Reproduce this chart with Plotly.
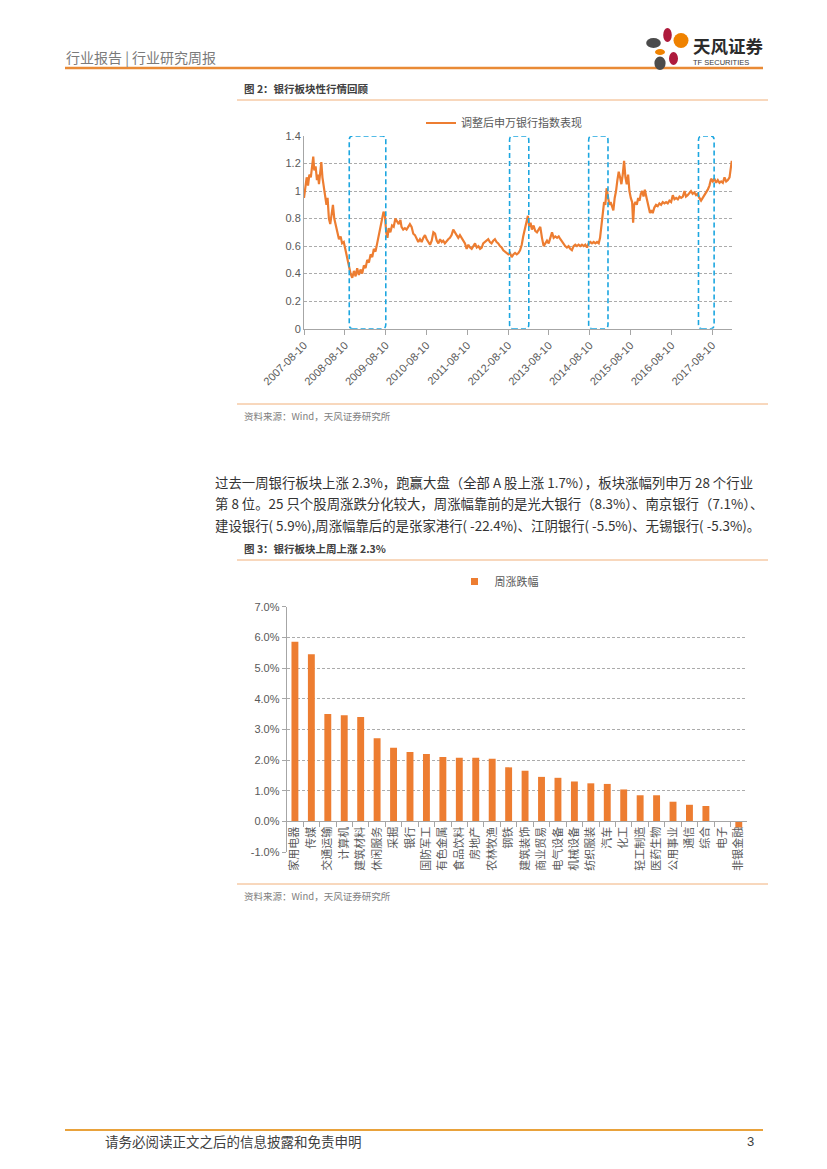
import plotly.graph_objects as go
import pandas as pd

W, H = 827, 1169
ORANGE = "#ED7D31"
BLUE = "#1CA6E0"
GRID = "#ABABAB"
AXIS = "#A6A6A6"
TXT = "#595959"
CJK = "Noto Sans CJK SC"
NUM = "Liberation Sans, Noto Sans CJK SC"

# ---------------- Chart 1 data: 调整后申万银行指数表现 ----------------
dates = [
    "2007-08-10", "2007-08-22", "2007-09-03", "2007-09-15", "2007-09-27", "2007-10-10", "2007-10-20",
    "2007-11-01", "2007-11-10", "2007-11-22", "2007-12-04", "2007-12-13", "2007-12-22", "2007-12-31",
    "2008-01-12", "2008-01-22", "2008-02-03", "2008-02-15", "2008-02-27", "2008-03-08", "2008-03-20",
    "2008-04-01", "2008-04-13", "2008-04-25", "2008-05-07", "2008-05-19", "2008-06-03", "2008-06-18",
    "2008-07-03", "2008-07-16", "2008-07-31", "2008-08-15", "2008-08-30", "2008-09-15", "2008-09-30",
    "2008-10-15", "2008-10-30", "2008-11-14", "2008-11-28", "2008-12-13", "2008-12-28", "2009-01-12",
    "2009-01-27", "2009-02-11", "2009-02-26", "2009-03-13", "2009-03-28", "2009-04-12", "2009-04-26",
    "2009-05-11", "2009-05-26", "2009-06-10", "2009-06-25", "2009-07-10", "2009-07-22", "2009-08-03",
    "2009-08-15", "2009-08-26", "2009-09-06", "2009-09-21", "2009-10-06", "2009-10-21", "2009-11-05",
    "2009-11-20", "2009-12-05", "2009-12-20", "2009-12-30", "2010-01-14", "2010-01-29", "2010-02-13",
    "2010-02-28", "2010-03-15", "2010-03-30", "2010-04-14", "2010-04-29", "2010-05-14", "2010-05-29",
    "2010-06-13", "2010-06-28", "2010-07-13", "2010-07-28", "2010-08-12", "2010-08-27", "2010-09-11",
    "2010-09-26", "2010-10-11", "2010-10-26", "2010-11-10", "2010-11-25", "2010-12-10", "2010-12-25",
    "2011-01-07", "2011-01-22", "2011-02-06", "2011-02-21", "2011-03-08", "2011-03-23", "2011-04-07",
    "2011-04-22", "2011-05-07", "2011-05-22", "2011-06-06", "2011-06-21", "2011-07-06", "2011-07-21",
    "2011-08-05", "2011-08-20", "2011-09-04", "2011-09-19", "2011-10-04", "2011-10-19", "2011-11-03",
    "2011-11-18", "2011-12-03", "2011-12-18", "2011-12-31", "2012-01-15", "2012-01-30", "2012-02-14",
    "2012-02-29", "2012-03-15", "2012-03-30", "2012-04-14", "2012-04-29", "2012-05-14", "2012-05-29",
    "2012-06-13", "2012-06-28", "2012-07-13", "2012-07-28", "2012-08-12", "2012-08-27", "2012-09-11",
    "2012-09-26", "2012-10-11", "2012-10-26", "2012-11-10", "2012-11-25", "2012-12-10", "2012-12-23",
    "2013-01-07", "2013-01-22", "2013-02-03", "2013-02-15", "2013-02-27", "2013-03-11", "2013-03-26",
    "2013-04-10", "2013-04-25", "2013-05-10", "2013-05-25", "2013-06-09", "2013-06-24", "2013-07-09",
    "2013-07-24", "2013-08-08", "2013-08-23", "2013-09-07", "2013-09-22", "2013-10-07", "2013-10-22",
    "2013-11-06", "2013-11-21", "2013-12-06", "2013-12-19", "2014-01-03", "2014-01-18", "2014-02-02",
    "2014-02-17", "2014-03-04", "2014-03-19", "2014-04-03", "2014-04-18", "2014-05-03", "2014-05-18",
    "2014-06-02", "2014-06-17", "2014-07-02", "2014-07-17", "2014-08-01", "2014-08-16", "2014-08-31",
    "2014-09-15", "2014-09-30", "2014-10-15", "2014-10-30", "2014-11-11", "2014-11-23", "2014-12-05",
    "2014-12-17", "2014-12-28", "2015-01-09", "2015-01-21", "2015-02-02", "2015-02-14", "2015-02-26",
    "2015-03-10", "2015-03-22", "2015-04-03", "2015-04-15", "2015-04-27", "2015-05-09", "2015-05-21",
    "2015-06-02", "2015-06-14", "2015-06-26", "2015-07-08", "2015-07-20", "2015-08-01", "2015-08-13",
    "2015-08-25", "2015-09-03", "2015-09-12", "2015-09-24", "2015-10-06", "2015-10-18", "2015-10-30",
    "2015-11-11", "2015-11-23", "2015-12-05", "2015-12-17", "2015-12-27", "2016-01-08", "2016-01-20",
    "2016-02-01", "2016-02-13", "2016-02-25", "2016-03-11", "2016-03-26", "2016-04-10", "2016-04-25",
    "2016-05-10", "2016-05-25", "2016-06-09", "2016-06-24", "2016-07-09", "2016-07-24", "2016-08-08",
    "2016-08-23", "2016-09-07", "2016-09-22", "2016-10-07", "2016-10-22", "2016-11-06", "2016-11-21",
    "2016-12-06", "2016-12-19", "2017-01-03", "2017-01-18", "2017-02-02", "2017-02-17", "2017-03-04",
    "2017-03-19", "2017-04-03", "2017-04-18", "2017-05-03", "2017-05-18", "2017-06-02", "2017-06-17",
    "2017-07-02", "2017-07-17", "2017-08-01", "2017-08-16", "2017-08-31", "2017-09-15", "2017-09-30",
    "2017-10-15", "2017-10-30", "2017-11-14", "2017-11-29", "2017-12-14", "2017-12-29", "2018-01-13",
    "2018-01-25", "2018-02-02",
]
index_values = [
    0.95, 1.05, 1.10, 1.04, 1.12, 1.10, 1.19,
    1.25, 1.15, 1.18, 1.08, 1.12, 1.05, 1.14,
    1.21, 1.10, 1.02, 0.98, 0.90, 0.95, 0.80,
    0.76, 0.85, 0.90, 0.80, 0.75, 0.70, 0.65,
    0.67, 0.62, 0.63, 0.57, 0.52, 0.44, 0.40,
    0.37, 0.42, 0.38, 0.44, 0.39, 0.43, 0.40,
    0.46, 0.44, 0.50, 0.48, 0.54, 0.52, 0.58,
    0.56, 0.62, 0.68, 0.74, 0.80, 0.85, 0.82,
    0.70, 0.66, 0.73, 0.70, 0.75, 0.74, 0.80,
    0.78, 0.76, 0.79, 0.74, 0.72, 0.73, 0.72,
    0.74, 0.76, 0.74, 0.69, 0.68, 0.66, 0.63,
    0.65, 0.63, 0.66, 0.68, 0.65, 0.63, 0.61,
    0.64, 0.70, 0.69, 0.64, 0.62, 0.65, 0.63,
    0.64, 0.62, 0.64, 0.65, 0.66, 0.68, 0.72,
    0.70, 0.68, 0.66, 0.68, 0.66, 0.64, 0.62,
    0.58, 0.61, 0.59, 0.58, 0.60, 0.62, 0.59,
    0.60, 0.58, 0.59, 0.62, 0.63, 0.64, 0.65,
    0.63, 0.62, 0.64, 0.65, 0.63, 0.62, 0.60,
    0.59, 0.57, 0.56, 0.55, 0.54, 0.55, 0.52,
    0.54, 0.55, 0.54, 0.55, 0.57, 0.61, 0.67,
    0.72, 0.76, 0.82, 0.74, 0.77, 0.72, 0.75,
    0.71, 0.70, 0.72, 0.74, 0.66, 0.60, 0.62,
    0.64, 0.62, 0.66, 0.70, 0.66, 0.67, 0.66,
    0.67, 0.65, 0.63, 0.62, 0.60, 0.59, 0.60,
    0.58, 0.57, 0.60, 0.61, 0.60, 0.61, 0.60,
    0.61, 0.60, 0.61, 0.59, 0.62, 0.63, 0.62,
    0.63, 0.62, 0.63, 0.62, 0.66, 0.75, 0.85,
    0.92, 0.90, 1.02, 0.96, 0.90, 0.92, 0.88,
    0.86, 0.95, 1.00, 1.08, 1.14, 1.10, 1.05,
    1.12, 1.22, 1.10, 1.05, 1.12, 1.00, 0.95,
    0.92, 0.77, 0.90, 0.92, 0.90, 0.95, 0.93,
    0.98, 1.00, 0.96, 1.01, 0.97, 0.92, 0.88,
    0.84, 0.86, 0.84, 0.88, 0.90, 0.89, 0.91,
    0.90, 0.92, 0.91, 0.92, 0.91, 0.93, 0.92,
    0.97, 0.94, 0.95, 0.94, 0.96, 0.95, 0.96,
    1.00, 0.96, 0.97, 0.99, 1.00, 0.98, 0.99,
    0.97, 0.98, 0.95, 0.93, 0.95, 0.97, 0.98,
    1.01, 1.04, 1.09, 1.07, 1.09, 1.06, 1.08,
    1.06, 1.07, 1.06, 1.10, 1.07, 1.08, 1.10,
    1.16, 1.22,
]
x1_ticks = ["2007-08-10", "2008-08-10", "2009-08-10", "2010-08-10", "2011-08-10", "2012-08-10",
            "2013-08-10", "2014-08-10", "2015-08-10", "2016-08-10", "2017-08-10"]
x1_range = ["2007-08-10", "2018-02-04"]
y1_ticks = [0, 0.2, 0.4, 0.6, 0.8, 1.0, 1.2, 1.4]
y1_labels = ["0", "0.2", "0.4", "0.6", "0.8", "1", "1.2", "1.4"]
highlight_starts = ["2008-09-18", "2012-08-23", "2014-08-01", "2017-04-10"]
highlight_ends = ["2009-08-11", "2013-02-11", "2015-01-21", "2017-08-28"]

# ---------------- Chart 2 data: 周涨跌幅 (%) ----------------
industries = ["家用电器", "传媒", "交通运输", "计算机", "建筑材料", "休闲服务", "采掘", "银行",
              "国防军工", "有色金属", "食品饮料", "房地产", "农林牧渔", "钢铁", "建筑装饰", "商业贸易",
              "电气设备", "机械设备", "纺织服装", "汽车", "化工", "轻工制造", "医药生物", "公用事业",
              "通信", "综合", "电子", "非银金融"]
weekly_change = [5.86, 5.45, 3.50, 3.46, 3.40, 2.71, 2.40, 2.26,
                 2.20, 2.10, 2.07, 2.07, 2.04, 1.76, 1.65, 1.45,
                 1.42, 1.30, 1.24, 1.22, 1.04, 0.85, 0.85, 0.64,
                 0.54, 0.50, 0.00, -0.20]
y2_ticks = [-1, 0, 1, 2, 3, 4, 5, 6, 7]
y2_labels = ["-1.0%", "0.0%", "1.0%", "2.0%", "3.0%", "4.0%", "5.0%", "6.0%", "7.0%"]


def px(x):
    return x / W


def py(y):
    return 1 - y / H


fig = go.Figure()

fig.add_trace(go.Scatter(
    x=dates, y=index_values, mode="lines", name="调整后申万银行指数表现",
    line=dict(color=ORANGE, width=2.2), xaxis="x", yaxis="y", legend="legend",
    hoverinfo="skip"))

fig.add_trace(go.Bar(
    x=industries, y=weekly_change, marker=dict(color=ORANGE, line=dict(width=0)),
    width=0.42, xaxis="x2", yaxis="y2", showlegend=False, hoverinfo="skip"))

fig.add_trace(go.Scatter(
    x=[None], y=[None], mode="markers", name="周涨跌幅",
    marker=dict(symbol="square", size=7, color=ORANGE),
    xaxis="x2", yaxis="y2", legend="legend2"))

# helper trace that carries the category labels on the axis drawn at 0
fig.add_trace(go.Scatter(
    x=industries, y=[0.5] * len(industries), mode="markers", marker=dict(opacity=0),
    xaxis="x3", yaxis="y3", showlegend=False, hoverinfo="skip"))

tickfont = dict(family=NUM, size=11, color=TXT)

fig.update_layout(
    template="none",
    width=W, height=H, margin=dict(l=0, r=0, t=0, b=0, autoexpand=False),
    paper_bgcolor="white", plot_bgcolor="rgba(0,0,0,0)",
    xaxis=dict(domain=[px(304), px(732)], anchor="y", type="date", range=x1_range,
               tickmode="array", tickvals=x1_ticks, ticktext=x1_ticks, tickangle=-45,
               ticks="outside", ticklen=5, tickcolor=AXIS, showline=True, linecolor=AXIS,
               linewidth=1, showgrid=False, zeroline=False, tickfont=tickfont,
               automargin=False),
    yaxis=dict(domain=[py(328.7), py(136)], anchor="x", range=[0, 1.4],
               tickmode="array", tickvals=y1_ticks, ticktext=y1_labels,
               showline=True, linecolor=AXIS, linewidth=1, ticks="",
               showgrid=True, gridcolor=GRID, griddash="3px,2px", gridwidth=1,
               zeroline=False, tickfont=tickfont, automargin=False),
    xaxis2=dict(domain=[px(286.7), px(747)], anchor="y2", type="category",
                range=[-0.5, len(industries) - 0.5], showticklabels=False,
                showline=False, showgrid=False, zeroline=False, ticks="",
                automargin=False),
    yaxis2=dict(domain=[py(852), py(606.7)], anchor="x2", range=[-1, 7],
                tickmode="array", tickvals=y2_ticks, ticktext=y2_labels,
                showline=True, linecolor=AXIS, linewidth=1, ticks="outside", ticklen=4,
                tickcolor=AXIS, showgrid=True, gridcolor=GRID, griddash="3px,2px",
                zeroline=False, tickfont=tickfont, automargin=False),
    xaxis3=dict(domain=[px(286.7), px(747)], anchor="y3", type="category",
                range=[-0.5, len(industries) - 0.5], showline=True, linecolor=AXIS,
                linewidth=1, ticks="outside", tickson="boundaries", ticklen=5,
                tickcolor=AXIS, tickangle=-90, showgrid=False, zeroline=False,
                tickfont=dict(family=CJK, size=11, color=TXT), automargin=False),
    yaxis3=dict(domain=[py(821.3), py(606.7)], anchor="x3", range=[0, 1], visible=False,
                automargin=False),
    legend=dict(orientation="h", x=px(504), y=py(123), xanchor="center", yanchor="middle",
                font=dict(family=CJK, size=11, color=TXT), bgcolor="rgba(0,0,0,0)"),
    legend2=dict(orientation="h", x=px(499), y=py(581.5), xanchor="center", yanchor="middle",
                 font=dict(family=CJK, size=11, color=TXT), bgcolor="rgba(0,0,0,0)"),
    showlegend=True,
)


# rounded dashed highlight boxes (data coordinates of chart 1)
def rounded_box(start, end, y0, y1, rdays=30, ry=0.03):
    s = pd.Timestamp(start)
    e = pd.Timestamp(end)
    r = pd.Timedelta(days=rdays)
    f = lambda t: t.strftime("%Y-%m-%d")
    return (f"M {f(s + r)},{y0} L {f(e - r)},{y0} Q {f(e)},{y0} {f(e)},{y0 + ry} "
            f"L {f(e)},{y1 - ry} Q {f(e)},{y1} {f(e - r)},{y1} L {f(s + r)},{y1} "
            f"Q {f(s)},{y1} {f(s)},{y1 - ry} L {f(s)},{y0 + ry} Q {f(s)},{y0} {f(s + r)},{y0} Z")


for s, e in zip(highlight_starts, highlight_ends):
    fig.add_shape(type="path", xref="x", yref="y", path=rounded_box(s, e, 0, 1.4),
                  line=dict(color=BLUE, width=1.6, dash="5px,3px"), layer="above")


def hline(y, x0, x1, color, width):
    fig.add_shape(type="line", xref="paper", yref="paper", x0=px(x0), x1=px(x1),
                  y0=py(y), y1=py(y), line=dict(color=color, width=width))


hline(68, 65, 763, "#E98A35", 2.5)
hline(100, 237, 768, "#F1B07A", 1)
hline(404, 237, 768, "#F1B07A", 1)
hline(560, 237, 768, "#F1B07A", 1)
hline(884, 237, 768, "#F1B07A", 1)
hline(1130, 65, 763, "#E9A23B", 2)


# logo petals
def petal(cx, cy, rx, ry, color):
    fig.add_shape(type="circle", xref="paper", yref="paper",
                  x0=px(cx - rx), x1=px(cx + rx), y0=py(cy + ry), y1=py(cy - ry),
                  fillcolor=color, line=dict(width=0))


petal(667.5, 35, 4.3, 7, "#AE1A3C")
petal(681, 40.5, 7.5, 7.5, "#EF8200")
petal(653.5, 43, 7.3, 5, "#4B4B4B")
petal(660, 52, 5, 3, "#EF8200")
petal(673.5, 58.5, 4.5, 6.5, "#AE1A3C")
petal(660, 63.3, 5.6, 6.7, "#4B4B4B")


def text(x, y, s, size, color, bold=False, family=CJK, xanchor="left"):
    fig.add_annotation(x=px(x), y=py(y), xref="paper", yref="paper",
                       text=f"<b>{s}</b>" if bold else s, showarrow=False,
                       xanchor=xanchor, yanchor="middle",
                       font=dict(family=family, size=size, color=color))


text(64, 57, "行业报告 | 行业研究周报", 14, "#7A7A7A")
text(691, 46, "天风证券", 17.5, "#2B2B2B", bold=True)
text(691, 63, "TF SECURITIES", 7.5, "#3A3A3A", family="Liberation Sans Narrow, Liberation Sans")

text(242, 88, "图 2：银行板块性行情回顾", 10.5, "#404040", bold=True)
text(242, 416, "资料来源：Wind，天风证券研究所", 9.5, "#808080")

text(213, 482, "过去一周银行板块上涨 2.3%，跑赢大盘（全部 A 股上涨 1.7%），板块涨幅列申万 28 个行业", 13.4, "#333333")
text(213, 503, "第 8 位。25 只个股周涨跌分化较大，周涨幅靠前的是光大银行（8.3%）、南京银行（7.1%）、", 13.4, "#333333")
text(213, 525, "建设银行( 5.9%),周涨幅靠后的是张家港行( -22.4%)、江阴银行( -5.5%)、无锡银行( -5.3%)。", 13.4, "#333333")

text(242, 548, "图 3：银行板块上周上涨 2.3%", 10.5, "#404040", bold=True)
text(242, 896, "资料来源：Wind，天风证券研究所", 9.5, "#808080")

text(103, 1141, "请务必阅读正文之后的信息披露和免责申明", 13.5, "#404040")
text(756, 1141, "3", 13, "#404040", family=NUM, xanchor="right")

fig.write_html("out.html", config={"displayModeBar": False},
               post_script="document.body.style.margin='0px';")
